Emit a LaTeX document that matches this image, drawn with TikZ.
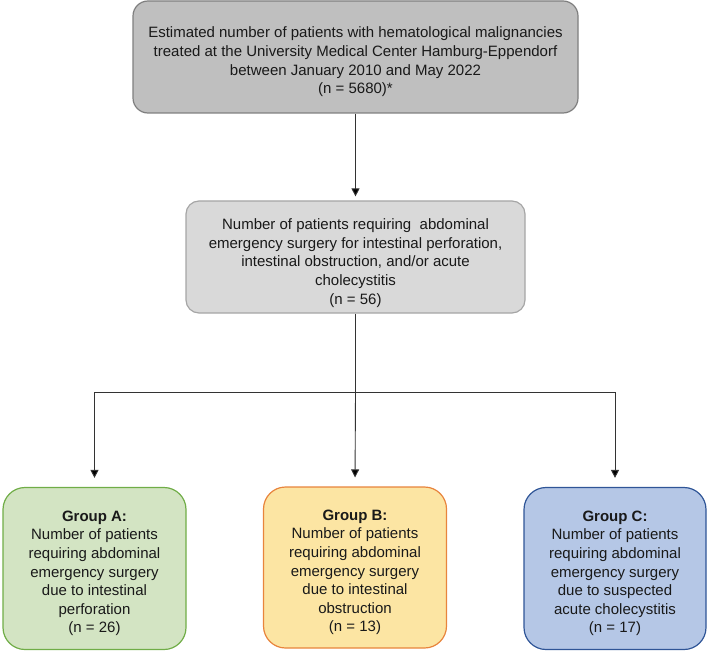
\documentclass[tikz,border=0pt]{standalone}
\usepackage{fontspec}
\setmainfont{Liberation Sans}
\usetikzlibrary{arrows.meta}
\definecolor{topfill}{HTML}{BFBFBF}
\definecolor{topdraw}{HTML}{7F7F7F}
\definecolor{midfill}{HTML}{D9D9D9}
\definecolor{middraw}{HTML}{A6A6A6}
\definecolor{afill}{HTML}{D3E4C3}
\definecolor{adraw}{HTML}{70AD47}
\definecolor{bfill}{HTML}{FCE5A3}
\definecolor{bdraw}{HTML}{E8843C}
\definecolor{cfill}{HTML}{B5C7E6}
\definecolor{cdraw}{HTML}{2F5597}
\tikzset{
  box/.style={draw, line width=1.2pt, inner sep=0pt},
  txt/.style={align=center, inner sep=0pt,
    font=\fontsize{15}{18.6}\selectfont, text=black!90},
  conn/.style={draw=black!80, line width=0.9pt},
  arr/.style={conn, -{Triangle[length=8pt,width=8pt,fill=black]}, shorten >=4pt},
}
\begin{document}
\begin{tikzpicture}[x=1pt,y=-1pt]
\useasboundingbox (0,0) rectangle (708,652);
\node[box, fill=topfill, draw=topdraw, rounded corners=15pt,
  minimum width=445pt, minimum height=112pt] (top) at (355.5,57) {};
\node[txt] (toptxt) at ([yshift=-5pt]top.center)
  {Estimated number of patients with hematological malignancies\\
   treated at the University Medical Center Hamburg-Eppendorf\\
   between January 2010 and May 2022\\
   (n = 5680)*};
\node[box, fill=midfill, draw=middraw, rounded corners=13pt,
  minimum width=339pt, minimum height=112pt] (mid) at (355.5,257) {};
\node[txt] (midtxt) at ([yshift=-6pt]mid.center)
  {Number of patients requiring\ \ abdominal\\
   emergency surgery for intestinal perforation,\\
   intestinal obstruction, and/or acute\\
   cholecystitis\\
   (n = 56)};
\node[box, fill=afill, draw=adraw, rounded corners=22pt,
  minimum width=183pt, minimum height=162pt] (ga) at (94.5,568.5) {};
\node[txt] (gatxt) at ([yshift=-5pt]ga.center)
  {\textbf{Group A:}\\
   Number of patients\\
   requiring abdominal\\
   emergency surgery\\
   due to intestinal\\
   perforation\\
   (n = 26)};
\node[box, fill=bfill, draw=bdraw, rounded corners=22pt,
  minimum width=183pt, minimum height=161pt] (gb) at (355,567.5) {};
\node[txt] (gbtxt) at ([yshift=-5pt]gb.center)
  {\textbf{Group B:}\\
   Number of patients\\
   requiring abdominal\\
   emergency surgery\\
   due to intestinal\\
   obstruction\\
   (n = 13)};
\node[box, fill=cfill, draw=cdraw, rounded corners=22pt,
  minimum width=182pt, minimum height=162pt] (gc) at (615,568.5) {};
\node[txt] (gctxt) at ([yshift=-5pt]gc.center)
  {\textbf{Group C:}\\
   Number of patients\\
   requiring abdominal\\
   emergency surgery\\
   due to suspected\\
   acute cholecystitis\\
   (n = 17)};
\coordinate (j) at (355.5,392);
\draw[arr] (top.south) -- (mid.north);
\draw[conn] (mid.south) -- (j);
\draw[arr, shorten >=9pt] (j) -- (gb.north);
\draw[arr, shorten >=9pt] (j) -| (ga.north);
\draw[arr, shorten >=9pt] (j) -| (gc.north);
\end{tikzpicture}
\end{document}
